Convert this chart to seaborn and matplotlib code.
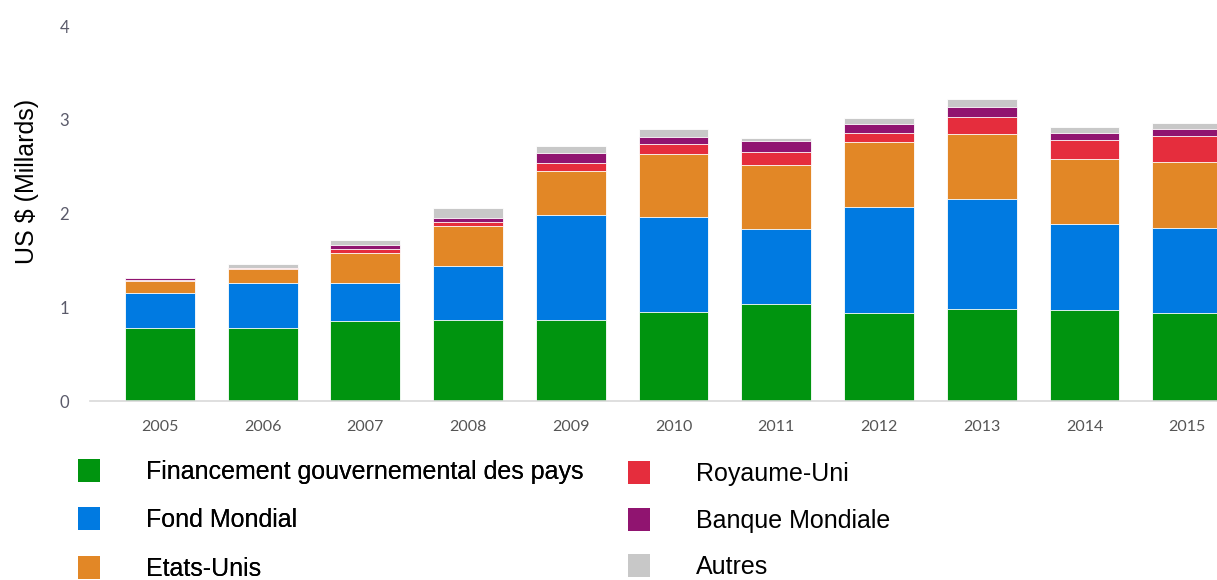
import numpy as np
import pandas as pd
import matplotlib
matplotlib.use("Agg")
import matplotlib.pyplot as plt
import seaborn as sns
from matplotlib.patches import Patch

# donnees (milliards US $)
annees = ["2005", "2006", "2007", "2008", "2009", "2010", "2011", "2012", "2013", "2014", "2015"]
gouvernement = [0.78, 0.78, 0.85, 0.86, 0.86, 0.95, 1.04, 0.94, 0.98, 0.97, 0.94]
fond_mondial = [0.37, 0.48, 0.41, 0.58, 1.12, 1.01, 0.79, 1.13, 1.18, 0.92, 0.91]
etats_unis = [0.13, 0.15, 0.32, 0.43, 0.47, 0.68, 0.69, 0.69, 0.69, 0.69, 0.70]
royaume_uni = [0.01, 0.005, 0.04, 0.04, 0.09, 0.10, 0.14, 0.10, 0.18, 0.21, 0.28]
banque_mondiale = [0.02, 0.005, 0.04, 0.04, 0.11, 0.08, 0.11, 0.10, 0.11, 0.07, 0.07]
autres = [0.0, 0.04, 0.06, 0.11, 0.07, 0.08, 0.04, 0.06, 0.08, 0.06, 0.07]

series = ["Financement gouvernemental des pays", "Fond Mondial", "Etats-Unis",
          "Royaume-Uni", "Banque Mondiale", "Autres"]
couleurs = ["#00940f", "#007ae1", "#e28726", "#e52d3d", "#901470", "#c8c8c8"]

df = pd.DataFrame({
    "annee": annees,
    series[0]: gouvernement,
    series[1]: fond_mondial,
    series[2]: etats_unis,
    series[3]: royaume_uni,
    series[4]: banque_mondiale,
    series[5]: autres,
})
cumul = df[series].cumsum(axis=1)

sns.set_style("white")
fig = plt.figure(figsize=(12.17, 5.80), dpi=100)
ax = fig.add_axes([0.074, 0.3086, 0.926, 0.6464])

# on dessine les cumuls du haut vers le bas
for nom, c in reversed(list(zip(series, couleurs))):
    sns.barplot(x=df["annee"], y=cumul[nom], color=c, width=0.68, ax=ax,
                edgecolor="white", linewidth=0.6, saturation=1)

ax.set_ylim(0, 4)
ax.set_xlim(-0.68, 10.29)
ax.set_yticks([0, 1, 2, 3, 4])
ax.set_xlabel("")
ax.set_ylabel("")
fig.text(27 / 1217, 1 - 181 / 580, "US $ (Millards)", rotation=90, ha="center", va="center",
         fontsize=18, family="Liberation Sans", color="black")

for s in ["top", "right", "left"]:
    ax.spines[s].set_visible(False)
ax.spines["bottom"].set_color("#d9d9d9")
ax.spines["bottom"].set_linewidth(1.2)

ax.tick_params(axis="y", direction="in", length=12, width=1, color="#e0e0e0",
               labelsize=12, labelcolor="#5a5a6a", pad=15)
ax.tick_params(axis="x", direction="out", length=4.5, width=1, color="#d9d9d9",
               labelsize=11.5, labelcolor="#555555", pad=9)
for lab in ax.get_xticklabels() + ax.get_yticklabels():
    lab.set_family("Lato")

poignees = [Patch(facecolor=c, edgecolor="none") for c in couleurs]
opts = dict(loc="upper left", frameon=False, handlelength=0.88, handleheight=1.04,
            handletextpad=1.84, borderpad=0, borderaxespad=0,
            labelcolor="black", prop={"family": "Liberation Sans", "size": 18})
leg1 = fig.legend(poignees[:3], series[:3], bbox_to_anchor=(78 / 1217, 1 - 459 / 580),
                  labelspacing=0.93, **opts)
leg2 = fig.legend(poignees[3:], series[3:], bbox_to_anchor=(628 / 1217, 1 - 461 / 580),
                  labelspacing=0.86, **opts)
fig.add_artist(leg1)

fig.savefig("out.png", dpi=100)
